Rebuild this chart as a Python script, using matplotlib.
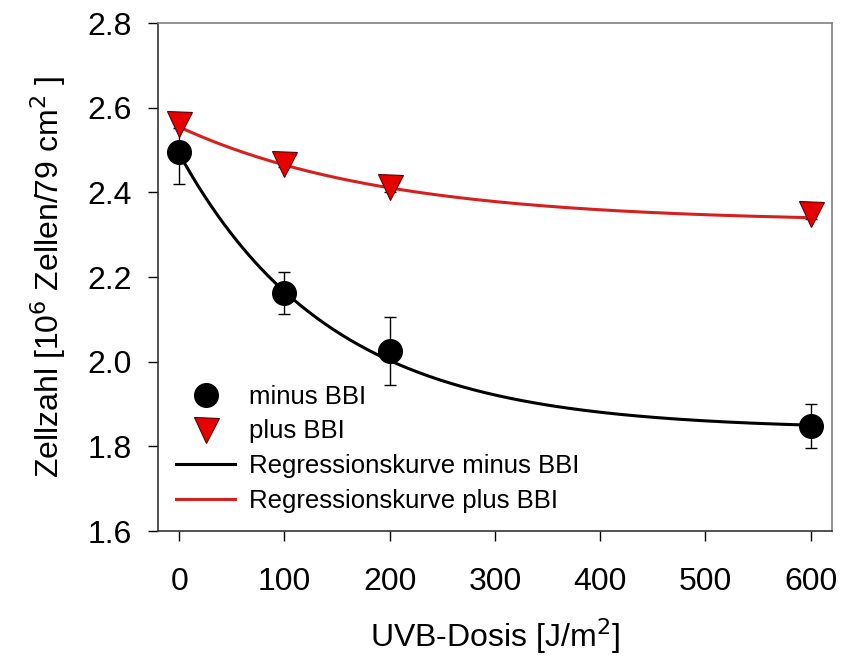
import numpy as np
import matplotlib.pyplot as plt

plt.rcParams['font.family'] = ['Liberation Sans', 'DejaVu Sans']

# Data
dose = [0, 100, 200, 600]
minus_bbi = [2.495, 2.163, 2.025, 1.848]
minus_err = [0.075, 0.05, 0.08, 0.052]
plus_bbi = [2.562, 2.468, 2.413, 2.350]
plus_err = [0.01, 0.008, 0.012, 0.012]

# exponential decay fits y = y0 + a*exp(-b*x)
fit_minus = (1.84, 0.652, 0.00693)
fit_plus = (2.33, 0.225, 0.00511)

xs = np.linspace(0, 600, 300)


def decay(x, p):
    y0, a, b = p
    return y0 + a * np.exp(-b * x)


fig = plt.figure(figsize=(8.41, 6.63), dpi=100)
ax = fig.add_axes([0.188, 0.199, 0.801, 0.766])

ax.errorbar(dose, minus_bbi, yerr=minus_err, fmt='none', ecolor='black',
            elinewidth=1, capsize=4, capthick=1, zorder=2)
ax.errorbar(dose, plus_bbi, yerr=plus_err, fmt='none', ecolor='black',
            elinewidth=1, capsize=4, capthick=1, zorder=2)

ax.plot(xs, decay(xs, fit_minus), color='black', lw=2.2, zorder=3,
        label='Regressionskurve minus BBI')
ax.plot(xs, decay(xs, fit_plus), color='#d62020', lw=2.2, zorder=3,
        label='Regressionskurve plus BBI')

ax.plot(dose, minus_bbi, 'o', color='black', ms=17, zorder=4, label='minus BBI')
ax.plot(dose, plus_bbi, 'v', color='#e60000', mec='#5a0000', mew=0.8, ms=18,
        zorder=4, label='plus BBI')

ax.set_xlim(-20, 620)
ax.set_ylim(1.6, 2.8)
ax.set_xticks(range(0, 700, 100))
ax.set_yticks(np.arange(1.6, 2.81, 0.2))
ax.yaxis.set_major_formatter(plt.FormatStrFormatter('%.1f'))

ax.tick_params(axis='x', direction='out', length=7, width=1, pad=19, labelsize=23)
ax.tick_params(axis='y', direction='out', length=7, width=1, pad=12, labelsize=23)

for s in ['top', 'right']:
    ax.spines[s].set_color('#808080')
for s in ['left', 'bottom']:
    ax.spines[s].set_color('#333333')
for s in ax.spines.values():
    s.set_linewidth(1.2)

ax.set_xlabel('UVB-Dosis [J/m$^2$]', fontsize=23, labelpad=14)
ax.set_ylabel('Zellzahl [10$^6$ Zellen/79 cm$^2$ ]', fontsize=23, labelpad=14)

h, l = ax.get_legend_handles_labels()
order = [2, 3, 0, 1]
ax.legend([h[i] for i in order], [l[i] for i in order], loc='lower left',
          frameon=False, fontsize=18.5, labelspacing=0.42, handlelength=2.3,
          handletextpad=0.55, borderaxespad=0.3, bbox_to_anchor=(0.0, 0.0))

plt.savefig('out.png', dpi=100)
